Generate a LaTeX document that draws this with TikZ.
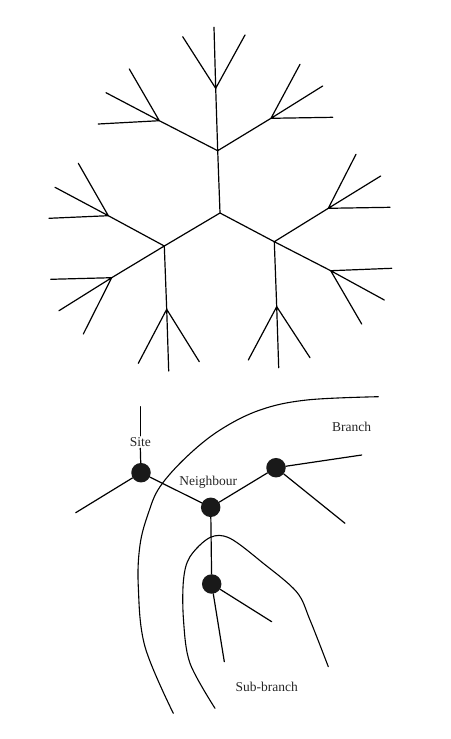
\documentclass[tikz,border=0pt]{standalone}
\usepackage{fontspec}
\setmainfont{Liberation Serif}
\begin{document}
\begin{tikzpicture}[x=1pt,y=-1pt,
  twig/.style={line width=1.2pt,line cap=round,line join=round},
  bond/.style={line width=1.2pt,line cap=round},
  rim/.style={line width=1.1pt,line cap=round},
  dot/.style={circle,fill=black!90,inner sep=0pt,minimum size=19.5pt},
  lab/.style={font=\fontsize{13.5}{15}\selectfont,inner sep=1.5pt,text=black!85}]
\useasboundingbox (0,0) rectangle (450,739);
% ---------- top tree ----------
\coordinate (c) at (220,213);
\coordinate (u) at (217.7,150.7);
\coordinate (l) at (164.3,246);
\coordinate (r) at (274.3,241.7);
\coordinate (ut) at (215.7,88.3);
\coordinate (ul) at (159.3,120.7);
\coordinate (ur) at (271,118.3);
\coordinate (lu) at (108.3,215.7);
\coordinate (ll) at (111.7,277.7);
\coordinate (ld) at (166.7,309.3);
\coordinate (ru) at (328.3,208.3);
\coordinate (rl) at (330.7,270.7);
\coordinate (rd) at (276.7,306.7);
% leaves
\coordinate (ut1) at (214,27.3);  \coordinate (ut2) at (182.7,36.7); \coordinate (ut3) at (245,35);
\coordinate (ul1) at (129.3,69);  \coordinate (ul2) at (106,92.7);   \coordinate (ul3) at (98.3,124);
\coordinate (ur1) at (300,64.3);  \coordinate (ur2) at (322.7,86);   \coordinate (ur3) at (332.7,117.3);
\coordinate (lu1) at (78.3,163.3);\coordinate (lu2) at (55,187.3);   \coordinate (lu3) at (49,218.3);
\coordinate (ll1) at (50.7,279.3);\coordinate (ll2) at (59,310.7);   \coordinate (ll3) at (83.3,334);
\coordinate (ld1) at (138.3,363.3);\coordinate (ld2) at (168.7,371); \coordinate (ld3) at (199.3,361.7);
\coordinate (ru1) at (356,154.3); \coordinate (ru2) at (380.7,176);  \coordinate (ru3) at (390,207.3);
\coordinate (rl1) at (391.7,268.3);\coordinate (rl2) at (384.3,300); \coordinate (rl3) at (361.7,324);
\coordinate (rd1) at (248.3,360); \coordinate (rd2) at (278.7,367.7);\coordinate (rd3) at (310,357.7);
\draw[twig] (c) -- (u) (c) -- (l) (c) -- (r);
\draw[twig] (u) -- (ut) (u) -- (ul) (u) -- (ur);
\draw[twig] (l) -- (lu) (l) -- (ll) (l) -- (ld);
\draw[twig] (r) -- (ru) (r) -- (rl) (r) -- (rd);
\foreach \b in {ut,ul,ur,lu,ll,ld,ru,rl,rd}{
  \draw[twig] (\b) -- (\b1) (\b) -- (\b2) (\b) -- (\b3);
}
% ---------- bottom figure ----------
\draw[rim] plot[smooth,tension=0.6] coordinates {(378.3,396.7) (306.7,400) (260,410) (220,430) (186.7,456.7) (160,486.7) (148.3,513.3) (140,545) (138.3,586.7) (145,646.7) (173.3,713.3)};
\draw[rim] plot[smooth,tension=0.55] coordinates {(215,708.3) (190,663.3) (183.5,620) (183.5,580) (190,556.7) (210,537.5) (230,538.3) (263.3,563.3) (296.7,592) (310,620) (328.3,666.7)};
\node[dot] (site) at (141,472.7) {};
\node[dot] (nb) at (210.7,507.3) {};
\node[dot] (rt) at (276,467.7) {};
\node[dot] (low) at (211.7,584) {};
\node[lab] (sitelab) at (140.3,442) {Site};
\node[lab] at (208.3,482.7) {Neighbour};
\node[lab] at (351.7,426.7) {Branch};
\node[lab] at (266.7,687) {Sub-branch};
\coordinate (stop) at (140.3,406.7);
\coordinate (sleft) at (75.7,512.7);
\coordinate (rt1) at (361.7,455);
\coordinate (rt2) at (345,523.3);
\coordinate (lw1) at (271.7,621.7);
\coordinate (lw2) at (224.3,661.7);
\draw[bond] (stop) -- (sitelab.north);
\draw[bond] (sitelab.south) -- (site);
\draw[bond] (site) -- (sleft);
\draw[bond] (site) -- (nb);
\draw[bond] (nb) -- (rt);
\draw[bond] (rt) -- (rt1);
\draw[bond] (rt) -- (rt2);
\draw[bond] (nb) -- (low);
\draw[bond] (low) -- (lw1);
\draw[bond] (low) -- (lw2);
\end{tikzpicture}
\end{document}
